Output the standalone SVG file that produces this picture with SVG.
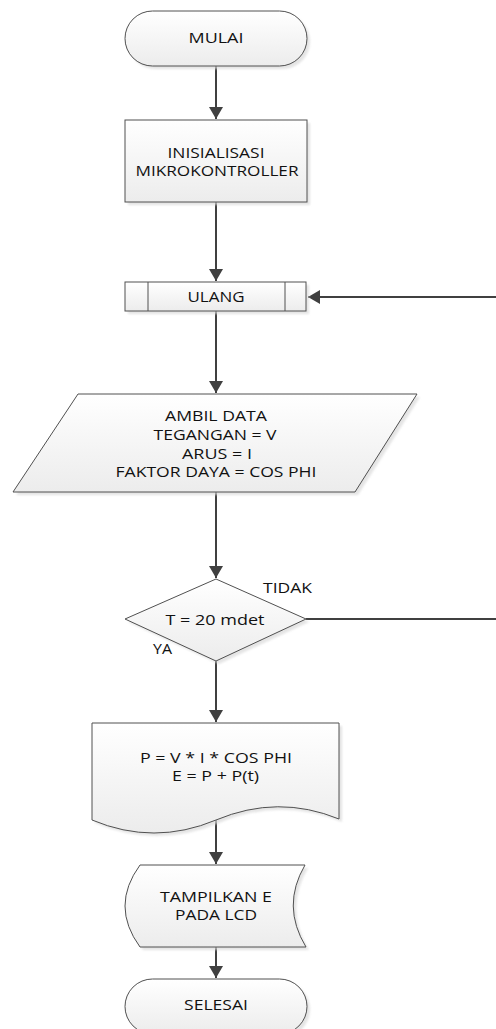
<svg xmlns="http://www.w3.org/2000/svg" width="496" height="1029" viewBox="0 0 496 1029">
<style>
.shape{fill:url(#g);stroke:#505050;stroke-width:1}
.shadow{fill:#d9d9d9;opacity:0.7}
.t{font-family:"Open Sans","Liberation Sans",sans-serif;font-size:14px;fill:#111111;text-anchor:middle}
.tl{font-family:"Open Sans","Liberation Sans",sans-serif;font-size:14px;fill:#111111}
.c{fill:none;stroke:#404040;stroke-width:2}
</style>
<defs>
<linearGradient id="g" x1="0" y1="0" x2="0" y2="1">
<stop offset="0" stop-color="#ffffff"/>
<stop offset="1" stop-color="#ececec"/>
</linearGradient>
<filter id="blur" x="-10%" y="-10%" width="120%" height="120%"><feGaussianBlur stdDeviation="1.2"/></filter>
<marker id="arr" viewBox="0 0 12 14" refX="12" refY="7" markerWidth="12" markerHeight="14" markerUnits="userSpaceOnUse" orient="auto">
<path d="M0,0 L12,7 L0,14 Z" fill="#404040"/>
</marker>
</defs>
<rect width="496" height="1029" fill="#ffffff"/>

<g id="connectors">
<line class="c" x1="216" y1="66" x2="216" y2="119" marker-end="url(#arr)"/>
<line class="c" x1="216" y1="202" x2="216" y2="281" marker-end="url(#arr)"/>
<line class="c" x1="216" y1="311" x2="216" y2="393" marker-end="url(#arr)"/>
<line class="c" x1="216" y1="492" x2="216" y2="578" marker-end="url(#arr)"/>
<line class="c" x1="216" y1="661" x2="216" y2="722" marker-end="url(#arr)"/>
<line class="c" x1="216" y1="820" x2="216" y2="864" marker-end="url(#arr)"/>
<line class="c" x1="216" y1="947" x2="216" y2="978" marker-end="url(#arr)"/>
<path class="c" d="M306,619 H502 V297 H308" marker-end="url(#arr)"/>
</g>

<g id="mulai">
<rect class="shadow" filter="url(#blur)" x="128" y="14" width="182" height="55" rx="27.5"/>
<rect class="shape" x="125" y="11" width="182" height="55" rx="27.5"/>
<text class="t" x="216" y="43" textLength="55" lengthAdjust="spacingAndGlyphs">MULAI</text>
</g>

<g id="inisialisasi">
<rect class="shadow" filter="url(#blur)" x="128" y="123" width="182" height="82"/>
<rect class="shape" x="125" y="120" width="182" height="82"/>
<text class="t" x="216" y="158" textLength="97" lengthAdjust="spacingAndGlyphs">INISIALISASI</text>
<text class="t" x="217" y="176" textLength="163" lengthAdjust="spacingAndGlyphs">MIKROKONTROLLER</text>
</g>

<g id="ulang">
<rect class="shadow" filter="url(#blur)" x="128" y="285" width="181" height="29"/>
<rect class="shape" x="125" y="282" width="181" height="29"/>
<line x1="148" y1="282" x2="148" y2="311" stroke="#505050" stroke-width="1"/>
<line x1="285" y1="282" x2="285" y2="311" stroke="#505050" stroke-width="1"/>
<text class="t" x="216" y="302" textLength="57" lengthAdjust="spacingAndGlyphs">ULANG</text>
</g>

<g id="ambil-data">
<polygon class="shadow" filter="url(#blur)" points="81,397 420,397 358,495 16,495"/>
<polygon class="shape" points="78,394 417,394 355,492 13,492"/>
<text class="t" x="216" y="421" textLength="102" lengthAdjust="spacingAndGlyphs">AMBIL DATA</text>
<text class="t" x="215" y="440" textLength="123" lengthAdjust="spacingAndGlyphs">TEGANGAN = V</text>
<text class="t" x="217" y="459" textLength="70" lengthAdjust="spacingAndGlyphs">ARUS = I</text>
<text class="t" x="216" y="477" textLength="201" lengthAdjust="spacingAndGlyphs">FAKTOR DAYA = COS PHI</text>
</g>

<g id="keputusan">
<polygon class="shadow" filter="url(#blur)" points="219,582 309,622 219,664 128,622"/>
<polygon class="shape" points="216,579 306,619 216,661 125,619"/>
<text class="t" x="215" y="625" textLength="99" lengthAdjust="spacingAndGlyphs">T = 20 mdet</text>
<text class="tl" x="263" y="593" textLength="49" lengthAdjust="spacingAndGlyphs">TIDAK</text>
<text class="tl" x="153" y="654" textLength="19" lengthAdjust="spacingAndGlyphs">YA</text>
</g>

<g id="hitung">
<path class="shadow" filter="url(#blur)" d="M95,726 H342 V822 Q281,797 219,823 Q157,849 95,823 Z"/>
<path class="shape" d="M92,723 H339 V819 Q278,794 216,820 Q154,846 92,820 Z"/>
<text class="t" x="216" y="763" textLength="152" lengthAdjust="spacingAndGlyphs">P = V * I * COS PHI</text>
<text class="t" x="215.5" y="781" textLength="87" lengthAdjust="spacingAndGlyphs">E = P + P(t)</text>
</g>

<g id="tampilkan">
<path class="shadow" filter="url(#blur)" d="M143,868 H308 Q284,909 309,950 H143 Q113,909 143,868 Z"/>
<path class="shape" d="M140,865 H305 Q281,906 306,947 H140 Q110,906 140,865 Z"/>
<text class="t" x="216" y="902" textLength="112" lengthAdjust="spacingAndGlyphs">TAMPILKAN E</text>
<text class="t" x="216" y="920" textLength="82" lengthAdjust="spacingAndGlyphs">PADA LCD</text>
</g>

<g id="selesai">
<rect class="shadow" filter="url(#blur)" x="128" y="982" width="182" height="55" rx="27.5"/>
<rect class="shape" x="125" y="979" width="182" height="55" rx="27.5"/>
<text class="t" x="216" y="1010" textLength="64" lengthAdjust="spacingAndGlyphs">SELESAI</text>
</g>
</svg>
